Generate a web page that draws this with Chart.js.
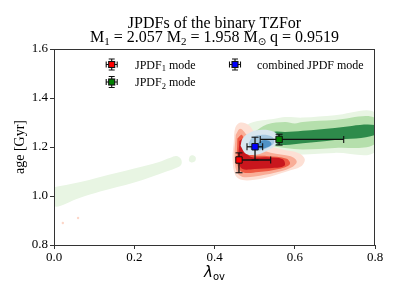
<!DOCTYPE html>
<html><head><meta charset="utf-8">
<script src="https://cdn.jsdelivr.net/npm/chart.js@4.4.0/dist/chart.umd.min.js"></script>
<style>html,body{margin:0;padding:0;background:#fff;overflow:hidden}</style>
</head><body>
<canvas id="c" width="399" height="299"></canvas>
<script>
// ---------------- DATA ----------------
const xTicks = [0.0, 0.2, 0.4, 0.6, 0.8];
const yTicks = [0.8, 1.0, 1.2, 1.4, 1.6];

const modeNames = ['JPDF1 mode', 'JPDF2 mode', 'combined JPDF mode'];
const modeX  = [0.461, 0.561, 0.501];
const modeY  = [1.147, 1.231, 1.201];
const xErrLo = [0.456, 0.514, 0.481];
const xErrHi = [0.540, 0.722, 0.520];
const yErrLo = [1.095, 1.208, 1.147];
const yErrHi = [1.176, 1.252, 1.240];

// JPDF2 (green) contour levels
const green0Band = [[0,1.036],[0.06,1.055],[0.115,1.078],[0.2,1.112],[0.26,1.138],[0.29,1.156],[0.305,1.163],[0.316,1.152],[0.318,1.132],[0.31,1.118],[0.28,1.1],[0.2,1.055],[0.115,1.018],[0.06,0.99],[0,0.958]];
const green0Blob = [[0.336,1.15],[0.339,1.162],[0.346,1.166],[0.353,1.158],[0.352,1.143],[0.344,1.137],[0.337,1.142]];
const green0Main = [[0.462,1.26],[0.49,1.298],[0.55,1.315],[0.576,1.322],[0.62,1.32],[0.70,1.33],[0.8,1.34],[0.8,1.18],[0.70,1.176],[0.576,1.167],[0.54,1.172],[0.5,1.195],[0.47,1.225]];
const green1 = [[0.5,1.262],[0.53,1.292],[0.576,1.302],[0.60,1.296],[0.62,1.302],[0.70,1.31],[0.8,1.318],[0.8,1.212],[0.70,1.196],[0.62,1.19],[0.576,1.196],[0.54,1.207],[0.51,1.228]];
const green2 = [[0.534,1.245],[0.55,1.262],[0.576,1.261],[0.62,1.266],[0.70,1.278],[0.8,1.29],[0.8,1.249],[0.70,1.229],[0.62,1.215],[0.576,1.208],[0.55,1.21],[0.536,1.222]];

// JPDF1 (red) contour levels
const red0 = [[0.448,1.22],[0.452,1.28],[0.465,1.3],[0.485,1.29],[0.5,1.26],[0.53,1.21],[0.57,1.19],[0.61,1.175],[0.625,1.15],[0.615,1.12],[0.58,1.1],[0.54,1.08],[0.5,1.066],[0.47,1.065],[0.452,1.085],[0.445,1.15]];
const red1 = [[0.453,1.25],[0.464,1.275],[0.48,1.25],[0.5,1.2],[0.54,1.177],[0.59,1.162],[0.605,1.14],[0.59,1.115],[0.55,1.095],[0.5,1.08],[0.47,1.078],[0.455,1.1],[0.45,1.17]];
const red2 = [[0.457,1.235],[0.468,1.25],[0.478,1.21],[0.49,1.17],[0.53,1.163],[0.58,1.152],[0.588,1.13],[0.56,1.11],[0.51,1.098],[0.47,1.097],[0.457,1.13]];
const red3 = [[0.462,1.225],[0.471,1.232],[0.477,1.19],[0.49,1.16],[0.53,1.158],[0.57,1.15],[0.575,1.125],[0.55,1.115],[0.5,1.11],[0.47,1.11],[0.46,1.14]];

// combined (blue) contour levels
const blue0 = [[0.465,1.205],[0.47,1.235],[0.49,1.26],[0.52,1.27],[0.55,1.26],[0.56,1.235],[0.55,1.205],[0.525,1.18],[0.5,1.168],[0.478,1.172]];
const blue1 = [[0.485,1.215],[0.495,1.24],[0.52,1.25],[0.545,1.24],[0.548,1.215],[0.53,1.195],[0.505,1.185],[0.49,1.19]];
const blue2 = [[0.505,1.205],[0.515,1.225],[0.535,1.226],[0.542,1.21],[0.525,1.195],[0.51,1.196]];

// faint stray JPDF1 points
const redStrayX = [0.022, 0.06];
const redStrayY = [0.89, 0.91];

// ---------------- STYLE ----------------
const modeColors = ['#ff0000', '#008000', '#0000ff'];
const SERIF = 'Liberation Serif, Times New Roman, serif';

function poly(pts, color, order) {
  const d = pts.map(p => ({x: p[0], y: p[1]}));
  d.push({x: pts[0][0], y: pts[0][1]});
  return {data: d, fill: 'shape', backgroundColor: color, borderColor: 'rgba(0,0,0,0)',
          borderWidth: 0, pointRadius: 0, tension: 0.35, order: order};
}

const datasets = [
  poly(green0Band, '#e8f5e3', 100),
  poly(green0Blob, '#e8f5e3', 100),
  poly(green0Main, '#e8f5e3', 100),
  poly(green1, '#b5dfac', 99),
  poly(green2, '#2e8b4b', 98),
  poly(red0, '#fde0d5', 90),
  poly(red1, '#f9ad97', 89),
  poly(red2, '#ee5a43', 88),
  poly(red3, '#c9161d', 87),
  poly(blue0, '#d9e6ef', 80),
  poly(blue1, '#a6c8e1', 79),
  poly(blue2, '#4f92c6', 78),
  {data: redStrayX.map((x, i) => ({x, y: redStrayY[i]})), showLine: false, pointRadius: 1.2,
   pointBackgroundColor: '#fcd6c8', pointBorderWidth: 0, order: 86}
];

for (let i = 0; i < modeX.length; i++) {
  datasets.push({data: [{x: xErrLo[i], y: modeY[i]}, {x: xErrHi[i], y: modeY[i]}],
    borderColor: '#111', borderWidth: 1.3, pointStyle: 'line', pointRotation: 90,
    pointRadius: 3.5, pointBorderColor: '#111', pointBorderWidth: 1.1, tension: 0, order: 10});
  datasets.push({data: [{x: modeX[i], y: yErrLo[i]}, {x: modeX[i], y: yErrHi[i]}],
    borderColor: '#111', borderWidth: 1.3, pointStyle: 'line', pointRotation: 0,
    pointRadius: 3.5, pointBorderColor: '#111', pointBorderWidth: 1.1, tension: 0, order: 10});
}
for (let i = 0; i < modeX.length; i++) {
  datasets.push({label: modeNames[i], data: [{x: modeX[i], y: modeY[i]}], showLine: false,
    pointStyle: 'rect', pointRadius: 4.5, pointBackgroundColor: modeColors[i],
    pointBorderColor: '#111', pointBorderWidth: 1, order: 0});
}

function textParts(ctx, parts, x, y, align) {
  let w = 0;
  parts.forEach(p => { ctx.font = p.f; p.w = ctx.measureText(p.t).width; w += p.w; });
  let cx = align === 'center' ? x - w / 2 : x;
  ctx.textAlign = 'left'; ctx.textBaseline = 'alphabetic';
  parts.forEach(p => { ctx.font = p.f; ctx.fillText(p.t, cx, y + (p.dy || 0)); cx += p.w; });
}

function legendMarker(ctx, x, y, color) {
  ctx.save();
  ctx.strokeStyle = '#111'; ctx.lineWidth = 1.1;
  ctx.beginPath();
  ctx.moveTo(x - 5.5, y); ctx.lineTo(x + 5.5, y);
  ctx.moveTo(x, y - 5.5); ctx.lineTo(x, y + 5.5);
  ctx.moveTo(x - 5.5, y - 3); ctx.lineTo(x - 5.5, y + 3);
  ctx.moveTo(x + 5.5, y - 3); ctx.lineTo(x + 5.5, y + 3);
  ctx.moveTo(x - 3, y - 5.5); ctx.lineTo(x + 3, y - 5.5);
  ctx.moveTo(x - 3, y + 5.5); ctx.lineTo(x + 3, y + 5.5);
  ctx.stroke();
  ctx.fillStyle = color;
  ctx.fillRect(x - 3, y - 3, 6, 6);
  ctx.strokeRect(x - 3, y - 3, 6, 6);
  ctx.restore();
}

const decor = {
  id: 'decor',
  afterDraw(chart) {
    const ctx = chart.ctx, a = chart.chartArea;
    ctx.save();
    // frame
    ctx.strokeStyle = '#333'; ctx.lineWidth = 1;
    ctx.strokeRect(a.left + 0.5, a.top + 0.5, a.right - a.left - 1, a.bottom - a.top);
    ctx.fillStyle = '#000';
    const cx = (a.left + a.right) / 2;
    const f = SERIF, big = '16px ' + f, sub = '11px ' + f;
    // title
    textParts(ctx, [{t: 'JPDFs of the binary TZFor', f: big}], cx, 28, 'center');
    textParts(ctx, [
      {t: 'M', f: big}, {t: '1', f: sub, dy: 3},
      {t: ' = 2.057 M', f: big}, {t: '2', f: sub, dy: 3},
      {t: ' = 1.958 M', f: big}, {t: '\u2299', f: '10px DejaVu Sans', dy: 3},
      {t: ' q = 0.9519', f: big}], cx, 42, 'center');
    // x axis title
    textParts(ctx, [{t: '\u03bb', f: 'italic 15px DejaVu Sans'}, {t: 'ov', f: '10px DejaVu Sans', dy: 3}], cx, 277, 'center');
    // y axis title
    ctx.save();
    ctx.translate(24, (a.top + a.bottom) / 2);
    ctx.rotate(-Math.PI / 2);
    textParts(ctx, [{t: 'age [Gyr]', f: '14px ' + f}], 0, 0, 'center');
    ctx.restore();
    // legend
    const lf = '12px ' + f, ls = '8.5px ' + f;
    const leg = [[111.7, 64.5, 135, 0], [111.7, 82, 135, 1], [235, 64.5, 257, 2]];
    leg.forEach(([mx, my, tx, i]) => {
      legendMarker(ctx, mx, my, modeColors[i]);
      ctx.fillStyle = '#000';
      const name = modeNames[i];
      if (i < 2) {
        textParts(ctx, [{t: 'JPDF', f: lf}, {t: name.charAt(4), f: ls, dy: 2.5}, {t: name.slice(5), f: lf}], tx, my + 4, 'left');
      } else {
        textParts(ctx, [{t: name, f: lf}], tx, my + 4, 'left');
      }
    });
    ctx.restore();
  }
};

new Chart(document.getElementById('c'), {
  type: 'line',
  data: {datasets},
  plugins: [decor],
  options: {
    responsive: false, animation: false, events: [], devicePixelRatio: 1,
    layout: {padding: {top: 49, right: 24, left: 0, bottom: 0}},
    plugins: {legend: {display: false}, tooltip: {enabled: false}, title: {display: false}},
    scales: {
      x: {type: 'linear', min: 0, max: 0.8,
        afterBuildTicks: s => { s.ticks = xTicks.map(v => ({value: v})); },
        afterFit: s => { s.height = 54; },
        grid: {drawOnChartArea: false, drawTicks: true, tickLength: 4, color: '#333'},
        border: {display: false},
        ticks: {color: '#000', padding: 1, maxRotation: 0, font: {family: SERIF, size: 13},
                callback: v => Number(v).toFixed(1)}},
      y: {type: 'linear', min: 0.8, max: 1.6,
        afterBuildTicks: s => { s.ticks = yTicks.map(v => ({value: v})); },
        afterFit: s => { s.width = 54; },
        grid: {drawOnChartArea: false, drawTicks: true, tickLength: 4, color: '#333'},
        border: {display: false},
        ticks: {color: '#000', padding: 2, font: {family: SERIF, size: 13},
                callback: v => Number(v).toFixed(1)}}
    }
  }
});
</script>
</body></html>
